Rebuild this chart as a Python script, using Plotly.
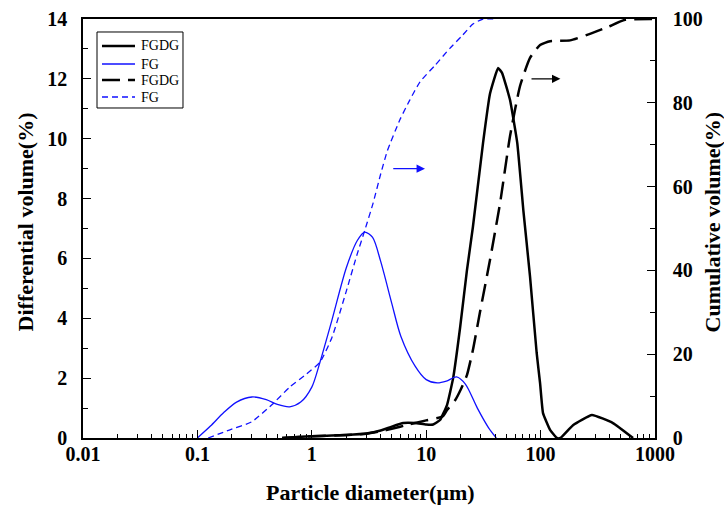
import numpy as np
import plotly.graph_objects as go

# FGDG differential volume (%)
fgdg_d = [0.55, 0.8, 1.0, 1.5, 2.0, 3.0, 4.0, 5.0, 6.3, 8.0, 10.0, 11.5, 13.2, 15.2, 17.2, 19.8, 22.7, 25.6,
          31.4, 36.1, 42.5, 46.0, 54.0, 62.5, 70.7, 80.8, 92.4, 98.9, 105, 121, 139, 149, 192, 281, 429, 643]
fgdg_diff = [0.0, 0.04, 0.06, 0.08, 0.1, 0.15, 0.25, 0.38, 0.5, 0.5, 0.45, 0.45, 0.6, 1.1, 2.0, 3.7, 5.6, 7.05,
             9.86, 11.5, 12.36, 12.2, 11.3, 9.86, 7.6, 5.4, 2.84, 1.84, 0.83, 0.27, 0.0, 0.0, 0.43, 0.77, 0.5, 0.0]

# FG differential volume (%)
fg_d = [0.1, 0.13, 0.17, 0.22, 0.3, 0.4, 0.5, 0.64, 0.8, 1.0, 1.18, 1.5, 2.0, 2.5, 2.9, 3.4, 4.0, 5.0,
        6.0, 8.0, 10.0, 12.5, 15.0, 18.4, 22.0, 28.0, 35.0, 41.0]
fg_diff = [0.0, 0.4, 0.85, 1.2, 1.37, 1.28, 1.12, 1.04, 1.2, 1.7, 2.54, 3.94, 5.68, 6.6, 6.88, 6.7, 5.9, 4.5,
           3.4, 2.4, 1.95, 1.84, 1.9, 2.04, 1.8, 1.0, 0.35, 0.0]

# FGDG cumulative volume (%)
fgdg_cd = [0.55, 1.0, 2.0, 3.0, 4.0, 5.0, 7.0, 10.0, 14.0, 15.2, 17.9, 20.0, 22.7, 25.6, 29.5, 36.1, 44.2,
           54.0, 66.1, 80.8, 98.9, 121, 181, 255, 380, 547, 1000]
fgdg_cum = [0.0, 0.4, 0.7, 1.0, 1.6, 2.2, 3.2, 4.2, 5.2, 6.7, 9.0, 11.5, 15.0, 21.0, 30.0, 42.5, 56.0,
            72.0, 84.0, 90.7, 93.8, 94.7, 94.9, 96.2, 98.0, 99.8, 100.0]

# FG cumulative volume (%)
fg_cd = [0.124, 0.19, 0.3, 0.45, 0.644, 0.9, 1.18, 1.5, 2.0, 2.5, 2.9, 3.43, 4.0, 4.57, 5.9, 7.2, 8.83,
         12.0, 16.1, 20.6, 25.6, 31.4, 40.0]
fg_cum = [0.0, 1.9, 3.9, 8.0, 12.2, 15.3, 18.1, 24.0, 35.0, 44.0, 49.5, 56.0, 63.0, 68.5, 76.0, 80.7, 85.0,
          89.0, 93.0, 96.0, 98.8, 100.0, 100.0]

x_tickvals = [0.01, 0.1, 1, 10, 100, 1000]
x_ticktext = ["0.01", "0.1", "1", "10", "100", "1000"]

legend_names = ["FGDG", "FG", "FGDG", "FG"]
x_title = "Particle diameter(μm)"
y_title = "Differential volume(%)"
y2_title = "Cumulative volume(%)"

FONT = "Liberation Serif"
BLUE = "#1010ff"

styles = [
    dict(color="black", width=2.5, dash="solid"),
    dict(color=BLUE, width=1.3, dash="solid"),
    dict(color="black", width=2.5, dash="18px,8px"),
    dict(color=BLUE, width=1.3, dash="6px,4px"),
]

fig = go.Figure()
fig.add_trace(go.Scatter(x=fgdg_d, y=fgdg_diff, name=legend_names[0], mode="lines",
                         line=dict(**styles[0], shape="spline", smoothing=0.35)))
fig.add_trace(go.Scatter(x=fg_d, y=fg_diff, name=legend_names[1], mode="lines",
                         line=dict(**styles[1], shape="spline", smoothing=0.8)))
fig.add_trace(go.Scatter(x=fgdg_cd, y=fgdg_cum, name=legend_names[2], mode="lines", yaxis="y2",
                         line=dict(**styles[2], shape="spline", smoothing=0.5)))
fig.add_trace(go.Scatter(x=fg_cd, y=fg_cum, name=legend_names[3], mode="lines", yaxis="y2",
                         line=dict(**styles[3], shape="spline", smoothing=0.5)))

# arrows
fig.add_annotation(x=np.log10(9.76), y=9.0, ax=np.log10(5.0), ay=9.0, xref="x", yref="y",
                   axref="x", ayref="y", text="", showarrow=True, arrowhead=2, arrowsize=1.4,
                   arrowwidth=1.2, arrowcolor=BLUE)
fig.add_annotation(x=np.log10(149), y=12.0, ax=np.log10(80.8), ay=12.0, xref="x", yref="y",
                   axref="x", ayref="y", text="", showarrow=True, arrowhead=2, arrowsize=1.4,
                   arrowwidth=1.2, arrowcolor="black")

# custom legend (positions in plot-area fractions)
fig.add_shape(type="rect", xref="paper", yref="paper", x0=0.0245, x1=0.1748, y0=0.7876, y1=0.969,
              line=dict(color="black", width=1), fillcolor="white", layer="above")
row_y = [0.9356, 0.8926, 0.8544, 0.8138]
for name, st, ry in zip(legend_names, styles, row_y):
    fig.add_shape(type="line", xref="paper", yref="paper", x0=0.0332, x1=0.0909, y0=ry, y1=ry,
                  line=dict(color=st["color"], width=st["width"], dash=st["dash"]), layer="above")
    fig.add_annotation(xref="paper", yref="paper", x=0.0979, y=ry, text=name, showarrow=False,
                       xanchor="left", yanchor="middle", font=dict(family=FONT, size=14, color="black"))

# axis titles as annotations
fig.add_annotation(xref="paper", yref="paper", x=0.502, y=-0.131, text="<b>" + x_title + "</b>",
                   showarrow=False, xanchor="center", yanchor="middle",
                   font=dict(family=FONT, size=22, color="black"))
fig.add_annotation(xref="paper", yref="paper", x=-0.101, y=0.515, text="<b>" + y_title + "</b>",
                   showarrow=False, xanchor="center", yanchor="middle", textangle=-90,
                   font=dict(family=FONT, size=22, color="black"))
fig.add_annotation(xref="paper", yref="paper", x=1.1, y=0.515, text="<b>" + y2_title + "</b>",
                   showarrow=False, xanchor="center", yanchor="middle", textangle=-90,
                   font=dict(family=FONT, size=22, color="black"))

fig.update_layout(
    width=724, height=507,
    margin=dict(l=83, r=69, t=19, b=69, autoexpand=False),
    paper_bgcolor="white", plot_bgcolor="white",
    font=dict(family=FONT, color="black"),
    showlegend=False,
    xaxis=dict(type="log", range=[-2, 3], tickvals=x_tickvals, ticktext=x_ticktext, automargin=False,
               showline=True, linecolor="black", linewidth=1.5, mirror=True,
               ticks="inside", ticklen=8, tickwidth=1.3, tickcolor="black",
               minor=dict(ticks="inside", ticklen=4, tickwidth=1, tickcolor="black", dtick="D1"),
               showgrid=False, zeroline=False, ticklabelstandoff=-3,
               tickfont=dict(family=FONT, size=20, weight="bold")),
    yaxis=dict(range=[0, 14], dtick=2, showline=True, linecolor="black", linewidth=1.5, automargin=False,
               ticks="inside", ticklen=8, tickwidth=1.3, tickcolor="black",
               minor=dict(ticks="inside", ticklen=5, dtick=1, tickcolor="black"),
               showgrid=False, zeroline=False, ticklabelstandoff=10,
               tickfont=dict(family=FONT, size=20, weight="bold")),
    yaxis2=dict(range=[0, 100], dtick=20, overlaying="y", side="right", showline=True, automargin=False,
                linecolor="black", linewidth=1.5,
                ticks="inside", ticklen=8, tickwidth=1.3, tickcolor="black",
                minor=dict(ticks="inside", ticklen=5, dtick=10, tickcolor="black"),
                showgrid=False, zeroline=False, ticklabelstandoff=12,
                tickfont=dict(family=FONT, size=20, weight="bold")),
)

fig.write_html("out.html")
